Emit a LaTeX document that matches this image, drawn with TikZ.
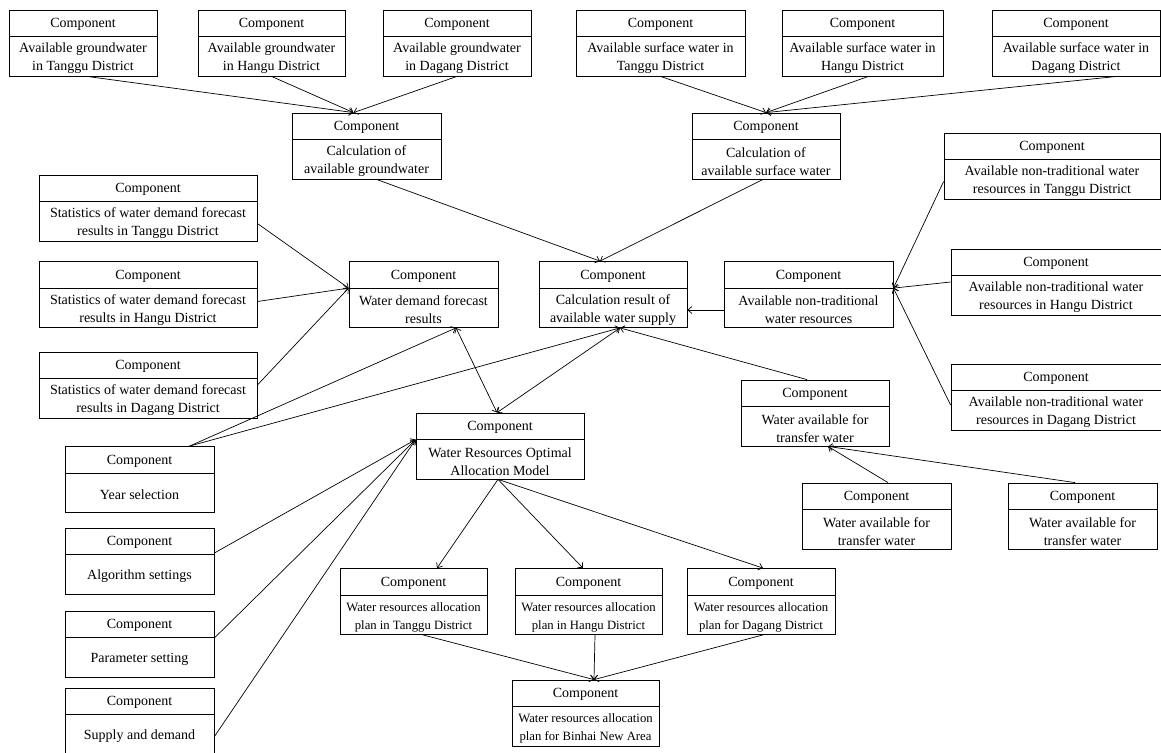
\documentclass[tikz,border=0pt]{standalone}
\usepackage{fontspec}
\setmainfont{Liberation Serif}
\usepackage{tikz}
\usetikzlibrary{arrows.meta,calc}

\newcommand{\compfont}{\fontsize{14}{18}\selectfont}
\tikzset{
	compbox/.style={draw, line width=0.8pt, minimum height=66pt, inner sep=0pt},
	comptitle/.style={inner sep=0pt, font=\compfont},
	comptext/.style={inner sep=0pt, align=center, font=\compfont},
	narrowtext/.style={comptext, font=\fontsize{12.7}{18}\selectfont},
	link/.style={line width=0.7pt, -{Straight Barb[length=4pt,width=7pt]}},
	biglink/.style={line width=0.7pt, {Straight Barb[length=4pt,width=7pt]}-{Straight Barb[length=4pt,width=7pt]}}
}
% [text style], name, x, y, width, text
\newcommand{\comp}[6][comptext]{%
	\node[compbox, minimum width=#5pt] (#2) at (#3,#4) {};
	\coordinate (#2-dw) at ([yshift=-27pt]#2.north west);
	\coordinate (#2-de) at ([yshift=-27pt]#2.north east);
	\draw[line width=0.8pt] (#2-dw) -- (#2-de);
	\node[comptitle] (#2-t) at ([yshift=-15pt]#2.north) {Component};
	\node[#1] (#2-b) at ($(#2-dw)!0.5!(#2.south east)+(0,2)$) {#6};
}

\begin{document}
\begin{tikzpicture}[x=1pt,y=-1pt]
	\useasboundingbox (0,0) rectangle (1161,752);
	\comp{gwT}{83}{43}{148}{Available groundwater\\in Tanggu District}
	\comp{gwH}{271.5}{43}{147}{Available groundwater\\in Hangu District}
	\comp{gwD}{457}{43}{148}{Available groundwater\\in Dagang District}
	\comp{swT}{660.5}{43}{169}{Available surface water in\\Tanggu District}
	\comp{swH}{862.5}{43}{161}{Available surface water in\\Hangu District}
	\comp{swD}{1076}{43}{168}{Available surface water in\\Dagang District}
	\comp{calcGW}{366.5}{146}{149}{Calculation of\\available groundwater}
	\comp{calcSW}{766}{146}{148}{Calculation of\\available surface water}
	\comp{ntT}{1052}{166}{216}{Available non-traditional water\\resources in Tanggu District}
	\comp{stT}{148}{208}{218}{Statistics of water demand forecast\\results in Tanggu District}
	\comp{stH}{148}{294.5}{218}{Statistics of water demand forecast\\results in Hangu District}
	\comp{stD}{148}{385}{218}{Statistics of water demand forecast\\results in Dagang District}
	\comp{wdf}{423.5}{294.5}{149}{Water demand forecast\\results}
	\comp{res}{613}{294.5}{148}{Calculation result of\\available water supply}
	\comp{nt}{808.5}{294.5}{169}{Available non-traditional\\water resources}
	\comp{ntH}{1056}{282}{210}{Available non-traditional water\\resources in Hangu District}
	\comp{ntD}{1056}{397}{210}{Available non-traditional water\\resources in Dagang District}
	\comp{tr}{815}{413}{148}{Water available for\\transfer water}
	\comp{trA}{876.5}{516}{149}{Water available for\\transfer water}
	\comp{trB}{1082.5}{516}{149}{Water available for\\transfer water}
	\comp{model}{500}{446}{168}{Water Resources Optimal\\Allocation Model}
	\comp{year}{139.5}{479.5}{149}{Year selection}
	\comp{alg}{139.5}{561}{149}{Algorithm settings}
	\comp{par}{139.5}{644}{149}{Parameter setting}
	\comp{sup}{139.5}{721}{149}{Supply and demand}
	\comp[narrowtext]{plT}{413.5}{601.5}{147}{Water resources allocation\\plan in Tanggu District}
	\comp[narrowtext]{plH}{588.5}{601.5}{147}{Water resources allocation\\plan in Hangu District}
	\comp[narrowtext]{plD}{761}{601.5}{148}{Water resources allocation\\plan for Dagang District}
	\comp[narrowtext]{bin}{585.5}{713}{147}{Water resources allocation\\plan for Binhai New Area}

	\draw[link] ([xshift=4pt]gwT.south) -- ([xshift=-13pt]calcGW.north);
	\draw[link] (gwH.south) -- ([xshift=-13pt]calcGW.north);
	\draw[link] (gwD.south) -- ([xshift=-13pt]calcGW.north);
	\draw[link] (swT.south) -- (calcSW.north);
	\draw[link] ([xshift=6pt]swH.south) -- (calcSW.north);
	\draw[link] ([xshift=41pt]swD.south) -- (calcSW.north);
	\draw[link] ([xshift=10pt]calcGW.south) -- ([xshift=-13pt]res.north);
	\draw[link] ([xshift=-3pt]calcSW.south) -- ([xshift=-13pt]res.north);
	\draw[link] (nt.west |- nt-b) -- (res.east |- nt-b);
	\draw[link] (ntT.west |- ntT-b) -- (nt-de);
	\draw[link] (ntH.west) -- (nt-de);
	\draw[link] ([yshift=-8pt]ntD.west) -- (nt-de);
	\draw[link] (stT.east |- stT-b) -- (wdf-dw);
	\draw[link] ([yshift=-7pt]stH.east) -- (wdf-dw);
	\draw[link] (stD.east) -- (wdf-dw);
	\draw[link] ([xshift=50pt]year.north) -- ([xshift=32.5pt]wdf.south);
	\draw[link] ([xshift=50pt]year.north) -- ([xshift=7pt]res.south);
	\draw[biglink] ([xshift=32.5pt]wdf.south) -- ([xshift=-3pt]model.north);
	\draw[biglink] ([xshift=7pt]res.south) -- ([xshift=-3pt]model.north);
	\draw[link] ([xshift=-8pt]tr.north) -- ([xshift=7pt]res.south);
	\draw[link] ([xshift=11.5pt]trA.north) -- ([xshift=13pt]tr.south);
	\draw[link] ([xshift=-7.5pt]trB.north) -- ([xshift=13pt]tr.south);
	\draw[link] ([yshift=8pt]alg.east) -- (model-dw);
	\draw[link] ([yshift=6pt]par.east) -- (model-dw);
	\draw[link] (sup.east |- sup-b) -- (model-dw);
	\draw[link] ([xshift=-2pt]model.south) -- ([xshift=23.5pt]plT.north);
	\draw[link] ([xshift=-2pt]model.south) -- ([xshift=-5.5pt]plH.north);
	\draw[link] ([xshift=-2pt]model.south) -- ([xshift=2pt]plD.north);
	\draw[link] ([xshift=9.5pt]plT.south) -- ([xshift=8.5pt]bin.north);
	\draw[link] ([xshift=6.5pt]plH.south) -- ([xshift=8.5pt]bin.north);
	\draw[link] ([xshift=2pt]plD.south) -- ([xshift=8.5pt]bin.north);
\end{tikzpicture}
\end{document}
